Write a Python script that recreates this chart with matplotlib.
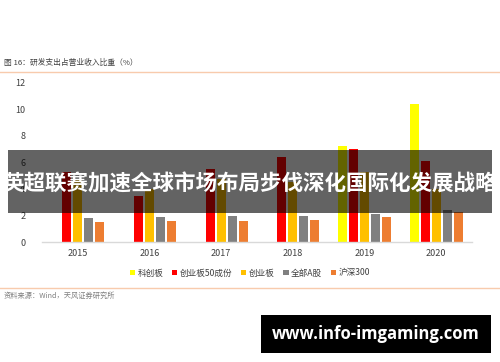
import matplotlib
matplotlib.use("Agg")
import matplotlib.pyplot as plt
import numpy as np
from matplotlib.patches import Rectangle
from matplotlib.lines import Line2D

plt.rcParams['font.family'] = ['Noto Sans CJK SC', 'DejaVu Sans']

years = ["2015", "2016", "2017", "2018", "2019", "2020"]
series_names = ["科创板", "创业板50成份", "创业板", "全部A股", "沪深300"]
kcb = [np.nan, np.nan, np.nan, np.nan, 7.25, 10.4]
cyb50 = [5.3, 3.5, 5.5, 6.4, 7.05, 6.15]
cyb = [4.7, 4.0, 4.75, 4.5, 5.3, 4.0]
all_a = [1.8, 1.9, 1.95, 2.0, 2.15, 2.45]
hs300 = [1.5, 1.6, 1.6, 1.65, 1.85, 2.3]
colors = ["#FFFF00", "#FF0000", "#FFC000", "#808080", "#ED7D31"]
yticks = [0, 2, 4, 6, 8, 10, 12]

W, H = 500, 362
fig = plt.figure(figsize=(W/100, H/100), dpi=100)
ax = fig.add_axes([42/W, 1-242/H, 430/W, (242-83)/H])

x = np.arange(len(years))
bw = 0.125
pitch = 0.153
data = [kcb, cyb50, cyb, all_a, hs300]
handles = []
for i, (vals, c, name) in enumerate(zip(data, colors, series_names)):
    b = ax.bar(x + (i-2)*pitch, vals, width=bw, color=c, label=name, zorder=2)
    handles.append(b)

ax.set_xlim(-0.5, len(years)-0.5)
ax.set_ylim(0, 12)
ax.set_yticks(yticks)
ax.set_yticklabels([str(t) for t in yticks])
ax.set_xticks(x)
ax.set_xticklabels(years)
for s in ["top", "right", "left"]:
    ax.spines[s].set_visible(False)
ax.spines["bottom"].set_color("#D9D9D9")
ax.spines["bottom"].set_linewidth(1.0)
ax.tick_params(axis='both', length=0, labelsize=6.5, colors="#404040")
ax.tick_params(axis='y', pad=12)
ax.tick_params(axis='x', pad=5)

fig.legend(handles=handles, labels=series_names, loc="center", bbox_to_anchor=(0.5, 1-273/H),
           ncol=5, frameon=False, fontsize=6.2, handlelength=0.6, handleheight=0.6,
           handletextpad=0.3, columnspacing=1.0, labelcolor="#404040")

# header and footer
fig.text(4/W, 1-63/H, "图 16：研发支出占营业收入比重（%）", fontsize=5.6, color="#404040",
         va="center", ha="left")
fig.add_artist(Line2D([0, 1], [1-72/H, 1-72/H], color="#F8CBAD", lw=1.0))
fig.add_artist(Line2D([0, 1], [1-288/H, 1-288/H], color="#F8CBAD", lw=1.0))
fig.text(4/W, 1-296/H, "资料来源：Wind，天风证券研究所", fontsize=5.2, color="#7F7F7F",
         va="center", ha="left")

# overlay banner
fig.add_artist(Rectangle((8/W, 1-213/H), 484/W, 63/H, transform=fig.transFigure,
                         facecolor="black", alpha=0.61, edgecolor="none", zorder=5))
fig.text(0.5, 1-184/H, "英超联赛加速全球市场布局步伐深化国际化发展战略", fontsize=15.5,
         color="white", fontweight="bold", ha="center", va="center", zorder=6)

# watermark
fig.add_artist(Rectangle((261/W, 1-353/H), 230/W, 38/H, transform=fig.transFigure,
                         facecolor="black", edgecolor="none", zorder=5))
fig.text(376/W, 1-334/H, "www.info-imgaming.com", fontsize=12, color="white",
         fontweight="bold", ha="center", va="center", zorder=6, family=["Open Sans", "DejaVu Sans"])

fig.savefig("out.png", dpi=100)
